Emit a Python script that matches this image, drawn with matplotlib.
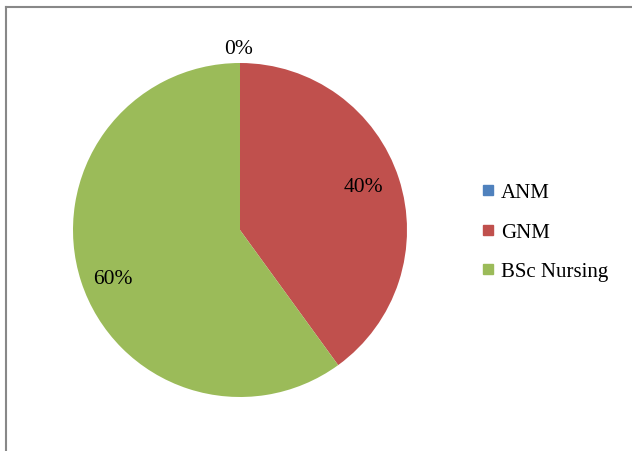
import matplotlib.pyplot as plt
import numpy as np
from matplotlib.lines import Line2D

# data
labels = ['ANM', 'GNM', 'BSc Nursing']
values = [0, 40, 60]
colors = ['#4F81BD', '#C0504D', '#9BBB59']
label_dist = [0.965, 0.79, 0.79]

plt.rcParams['font.family'] = ['Liberation Serif', 'DejaVu Serif']

W, H = 632, 452
fig = plt.figure(figsize=(W / 100, H / 100), dpi=100)

# pie axes: centre ~ (240, 231) px, radius ~167 px
cx, cy, r = 240, 231, 167
ax = fig.add_axes([(cx - r) / W, (H - cy - r) / H, 2 * r / W, 2 * r / H])
ax.pie(values, colors=colors, startangle=90, counterclock=False, radius=1,
       wedgeprops=dict(linewidth=0))
ax.set_xlim(-1, 1)
ax.set_ylim(-1, 1)
ax.set_aspect('equal')
ax.axis('off')

# percentage labels at mid angle of each slice
total = sum(values)
start = 90.0
for v, d in zip(values, label_dist):
    span = 360.0 * v / total
    mid = np.deg2rad(start - span / 2)
    ax.text(d * np.cos(mid) - 0.01, d * np.sin(mid) * 1.14, f'{v}%', ha='center',
            va='center_baseline', fontsize=15.5, clip_on=False)
    start -= span

# legend
handles = [Line2D([], [], marker='s', linestyle='none', markersize=6.5,
                  markerfacecolor=c, markeredgecolor=c) for c in colors]
fig.legend(handles, labels, loc='center left', bbox_to_anchor=(482 / W, 1 - 233 / H),
           frameon=False, fontsize=15, handlelength=0.6, handletextpad=0.3,
           labelspacing=0.95, borderpad=0, borderaxespad=0)

# chart border (left and top visible)
fig.add_artist(Line2D([6 / W, 6 / W], [0, 1 - 8 / H], color='#888888', lw=1.5))
fig.add_artist(Line2D([6 / W, 1], [1 - 8 / H, 1 - 8 / H], color='#888888', lw=1.5))

fig.savefig('out.png', dpi=100)
